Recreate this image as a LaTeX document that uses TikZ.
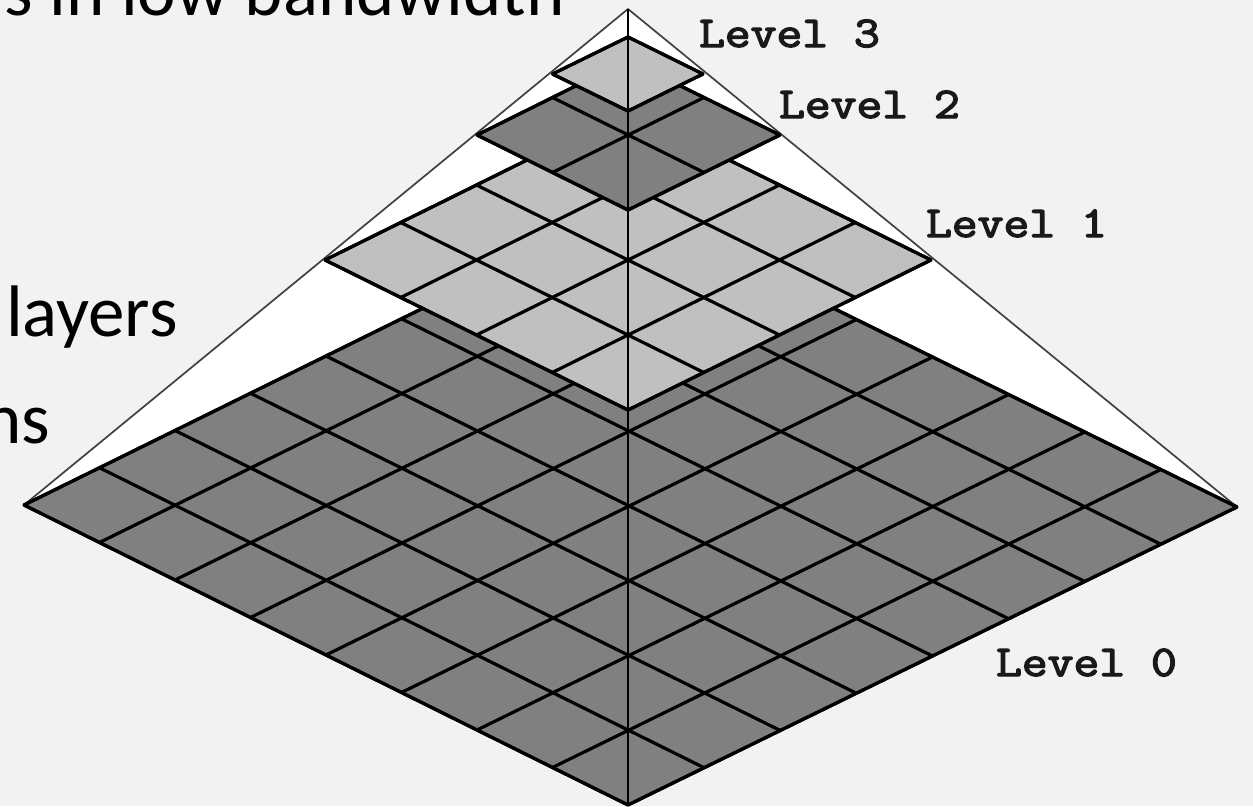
\documentclass[tikz,border=0pt]{standalone}
\usepackage{fontspec}
\usetikzlibrary{calc}
\setmainfont{Carlito}
\newfontfamily\levelfont[FakeBold=3]{Latin Modern Mono}
\tikzset{
  slidetext/.style={font=\fontsize{73}{84}\selectfont, text=black, inner sep=0pt, outer sep=0pt},
  leveltext/.style={font=\fontsize{44}{50}\selectfont\levelfont, text=black!90, inner sep=0pt, outer sep=0pt, anchor=base west, xscale=1.14},
  cellgrid/.style={draw=black, line width=3.2pt, line join=round},
  darkcell/.style={cellgrid, fill=gridDark},
  lightcell/.style={cellgrid, fill=gridLight},
  outline/.style={draw=black!75, line width=1.7pt, line join=round}
}
\definecolor{pageBg}{HTML}{F2F2F2}
\definecolor{gridDark}{HTML}{808080}
\definecolor{gridLight}{HTML}{C0C0C0}
% left, top, right, bottom corners; cells per side; fill style
\newcommand{\gridlevel}[6]{%
  \coordinate (gL) at #1; \coordinate (gT) at #2; \coordinate (gR) at #3; \coordinate (gB) at #4;
  \path[#6] (gL) -- (gT) -- (gR) -- (gB) -- cycle;
  \foreach \k in {0,...,#5}{%
    \pgfmathsetmacro{\f}{\k/#5}%
    \draw[cellgrid] ($(gL)!\f!(gT)$) -- ($(gB)!\f!(gR)$);
    \draw[cellgrid] ($(gL)!\f!(gB)$) -- ($(gT)!\f!(gR)$);
  }%
}
\begin{document}
\begin{tikzpicture}[x=1pt,y=-1pt]
  \useasboundingbox[fill=pageBg] (0,0) rectangle (1253,806);
  \node[slidetext, anchor=base east] (t1) at (565,15) {s in low bandwidth};
  \node[slidetext, anchor=base west] (t2) at (6,336) {layers};
  \node[slidetext, anchor=base east] (t3) at (50,443) {ns};
  \coordinate (apex) at (628,9);
  \coordinate (cl) at (24,505);
  \coordinate (cr) at (1237,507);
  \coordinate (foot) at (628,805);
  \fill[white] (apex) -- (cl) -- (cr) -- cycle;
  \draw[outline] (cl) -- (apex) -- (cr);
  \gridlevel{(24,505)}{(628,207)}{(1237,507)}{(628,805)}{8}{darkcell}
  \gridlevel{(325,260)}{(628,110)}{(931,260)}{(628,410)}{4}{lightcell}
  \gridlevel{(477,135)}{(628,60)}{(780,135)}{(628,210)}{2}{darkcell}
  \gridlevel{(552.5,74)}{(628,37)}{(703,74)}{(628,111)}{1}{lightcell}
  \draw[draw=black, line width=2.2pt] (apex) -- (foot);
  \node[leveltext] (l3) at (699,47) {Level 3};
  \node[leveltext] (l2) at (779,118) {Level 2};
  \node[leveltext] (l1) at (926,237) {Level 1};
  \node[leveltext] (l0) at (996,676) {Level 0};
\end{tikzpicture}
\end{document}
